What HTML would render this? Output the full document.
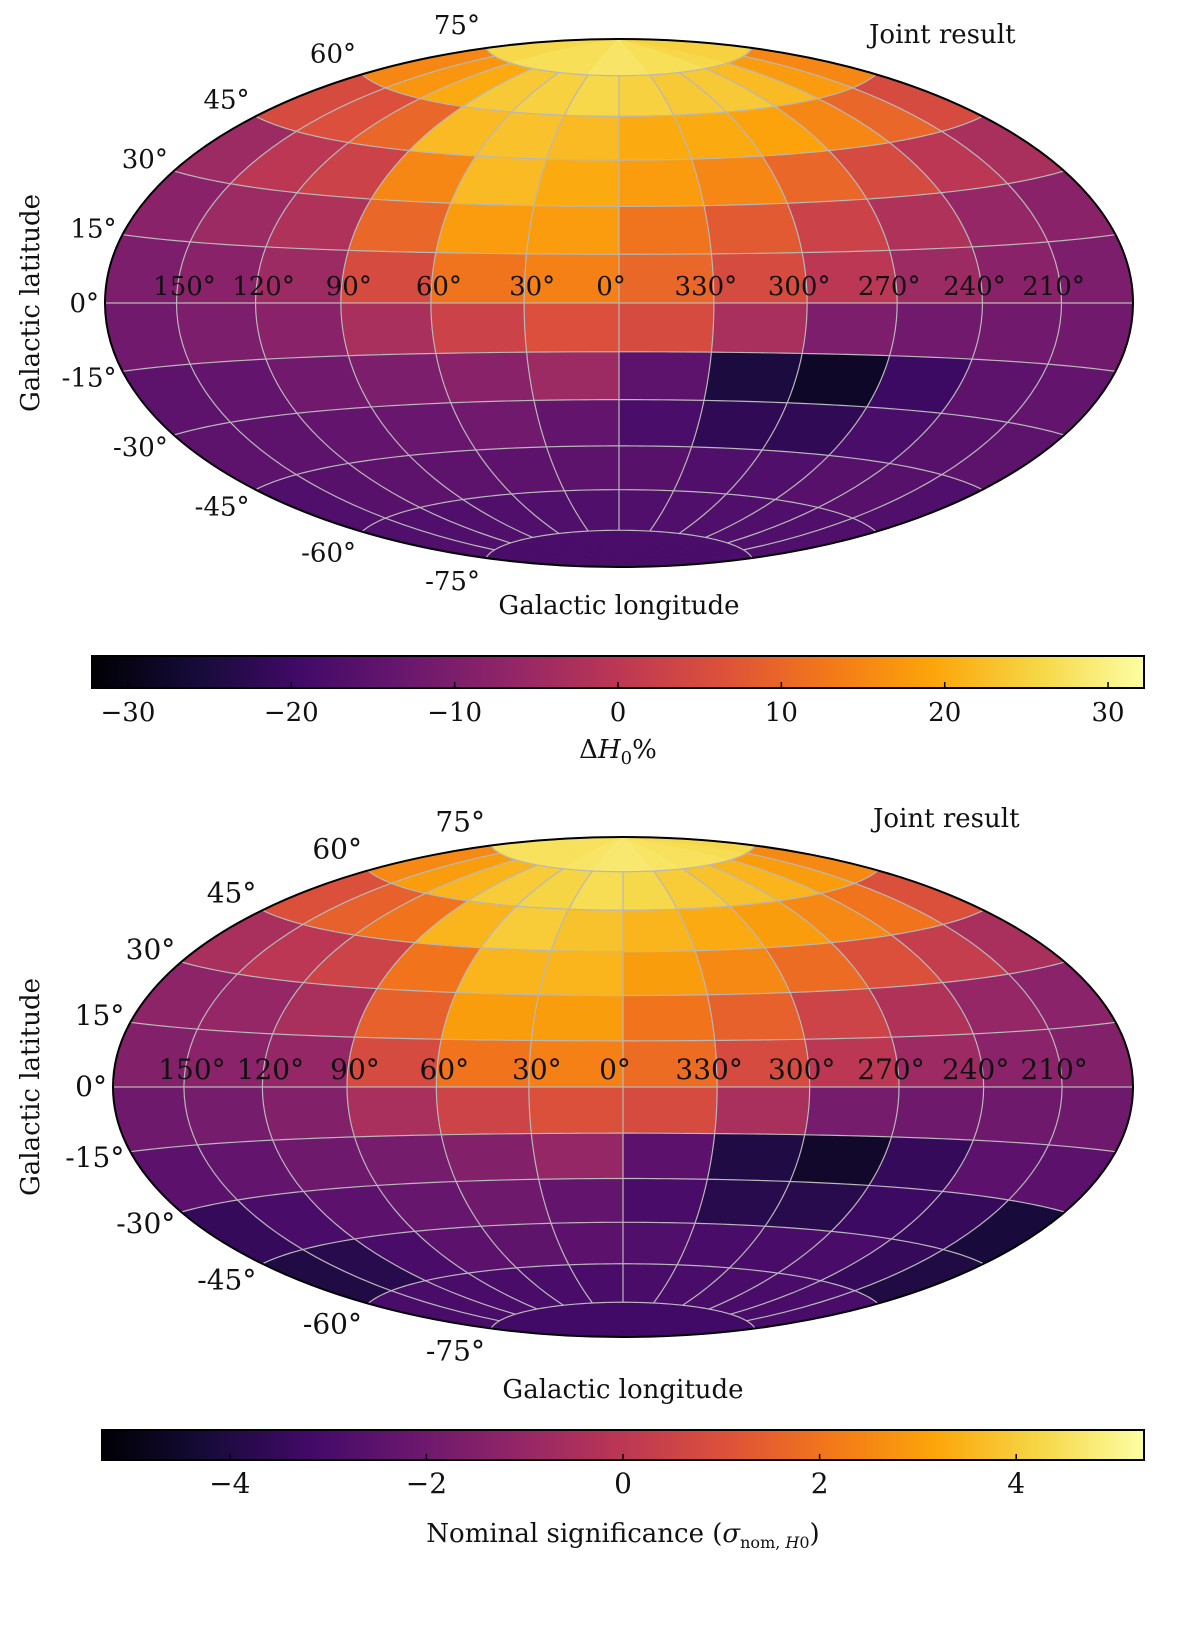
<!DOCTYPE html>
<html><head><meta charset="utf-8"><style>
body{margin:0;background:#fff;}
svg text{font-family:"DejaVu Serif","Liberation Serif",serif;fill:#111;}
</style></head><body>
<svg id="s" width="1200" height="1621" viewBox="0 0 1200 1621" xmlns="http://www.w3.org/2000/svg">
<defs>
<linearGradient id="inf" x1="0" x2="1" y1="0" y2="0">
<stop offset="0" stop-color="#000004"/><stop offset="0.1" stop-color="#160b39"/><stop offset="0.2" stop-color="#420a68"/><stop offset="0.3" stop-color="#6a176e"/><stop offset="0.4" stop-color="#932667"/><stop offset="0.5" stop-color="#bc3754"/><stop offset="0.6" stop-color="#dd513a"/><stop offset="0.7" stop-color="#f37819"/><stop offset="0.8" stop-color="#fca50a"/><stop offset="0.9" stop-color="#f6d746"/><stop offset="1" stop-color="#fcffa4"/>
</linearGradient>
</defs>
</svg>
<script>
// Bin centers (longitude, displayed left→right) and latitude rows (top→bottom)
const lonBins = [165,135,105,75,45,15,-15,-45,-75,-105,-135,-165];
const latBins = [82.5,67.5,52.5,37.5,22.5,7.5,-7.5,-22.5,-37.5,-52.5,-67.5,-82.5];
const lonTicks = [150,120,90,60,30,0,330,300,270,240,210];
const latTicks = [75,60,45,30,15,0,-15,-30,-45,-60,-75];
const cbTicksTop = [-30,-20,-10,0,10,20,30];
const cbTicksBot = [-4,-2,0,2,4];
const dH0 = [
[26,26,27,27,27,28,28,27,27,26,25,25],
[15,17,20,24,25,26,25,24,24,22,18,15],
[5,6,10,22,23,22,20,20,19,15,10,5],
[-5,0,3,15,22,20,18,15,10,5,0,-3],
[-8,-5,-2,10,18,18,12,8,3,-2,-6,-8],
[-10,-8,-5,5,12,14,10,5,0,-5,-8,-10],
[-12,-10,-8,-3,3,6,5,-3,-10,-12,-12,-12],
[-15,-14,-12,-10,-8,-5,-15,-25,-28,-20,-15,-14],
[-15,-15,-14,-13,-12,-14,-18,-22,-22,-18,-16,-15],
[-17,-16,-15,-15,-15,-15,-16,-17,-17,-16,-16,-17],
[-17,-17,-17,-17,-17,-17,-17,-17,-17,-17,-17,-17],
[-18,-18,-18,-18,-18,-18,-18,-18,-18,-18,-18,-18]];
const sigma = [
[4.5,4.5,4.5,4.5,4.6,4.7,4.7,4.6,4.5,4.5,4.4,4.3],
[2.5,3,3.5,4,4.2,4.4,4.3,4,3.8,3.5,3,2.5],
[1,1.5,2,3.5,4,3.8,3.5,3.3,3,2.5,2,1],
[-0.5,0,0.5,2,3.5,3.5,3,2.5,1.8,1,0.3,-0.5],
[-1.2,-1,-0.5,1.5,3,3,2,1.5,0.5,-0.3,-1,-1.3],
[-1.5,-1.3,-1,0.8,2,2.3,1.8,0.8,0,-0.8,-1.3,-1.5],
[-2,-1.8,-1.5,-0.5,0.5,1,0.8,-0.5,-1.8,-2,-2,-2],
[-2.5,-2.3,-2,-1.8,-1.5,-1,-2.5,-4,-4.5,-3.5,-2.5,-2.5],
[-3.5,-3,-2.5,-2.2,-2,-2.3,-3,-3.8,-3.8,-3.3,-3.5,-4.2],
[-4,-3.8,-3,-2.5,-2.4,-2.5,-2.8,-3,-3,-3,-3.5,-4],
[-3,-3,-3,-3,-3,-3,-3,-3,-3,-3,-3,-3],
[-3.2,-3.2,-3.2,-3.2,-3.2,-3.2,-3.2,-3.2,-3.2,-3.2,-3.2,-3.2]];

const NS='http://www.w3.org/2000/svg';
const svg=document.getElementById('s');
const defs=svg.querySelector('defs');
function mk(t,attrs,parent){const e=document.createElementNS(NS,t);for(const k in attrs)e.setAttribute(k,attrs[k]);(parent||svg).appendChild(e);return e;}
const stops=[[0,0,0,4],[0.1,22,11,57],[0.2,66,10,104],[0.3,106,23,110],[0.4,147,38,103],[0.5,188,55,84],[0.6,221,81,58],[0.7,243,120,25],[0.8,252,165,10],[0.9,246,215,70],[1,252,255,164]];
function inferno(t){t=Math.max(0,Math.min(1,t));for(let i=1;i<stops.length;i++){if(t<=stops[i][0]){const a=stops[i-1],b=stops[i],f=(t-a[0])/(b[0]-a[0]);return 'rgb('+[1,2,3].map(k=>Math.round(a[k]+f*(b[k]-a[k]))).join(',')+')';}}return 'rgb(252,255,164)';}

function makeMap(o){
  const sc=o.a/(2*Math.SQRT2), bs=o.b/Math.SQRT2;
  function P(lon,lat){let L=lon>180?lon-360:lon;const l=L*Math.PI/180,p=lat*Math.PI/180;const D=Math.sqrt(1+Math.cos(p)*Math.cos(l/2));return [o.cx-sc*2*Math.SQRT2*Math.cos(p)*Math.sin(l/2)/D, o.cy-bs*Math.SQRT2*Math.sin(p)/D];}
  const g=mk('g',{}); 
  const cp=mk('clipPath',{id:o.name+'clip'},defs);
  mk('ellipse',{cx:o.cx,cy:o.cy,rx:o.a,ry:o.b},cp);
  const cells=mk('g',{'clip-path':'url(#'+o.name+'clip)'},g);
  
  for(let j=0;j<latBins.length;j++)for(let i=0;i<lonBins.length;i++){
    const l0=lonBins[i]-15,l1=lonBins[i]+15,b0=latBins[j]-7.5,b1=latBins[j]+7.5;const pts=[];
    for(let k=0;k<=6;k++)pts.push(P(l1-(l1-l0)*k/6,b1));
    for(let k=0;k<=6;k++)pts.push(P(l0,b1-(b1-b0)*k/6));
    for(let k=0;k<=6;k++)pts.push(P(l0+(l1-l0)*k/6,b0));
    for(let k=0;k<=6;k++)pts.push(P(l1,b0+(b1-b0)*k/6));
    const c=inferno((o.data[j][i]-o.vmin)/(o.vmax-o.vmin));
    const pg=mk('polygon',{points:pts.map(p=>p[0].toFixed(1)+','+p[1].toFixed(1)).join(' '),fill:c,stroke:c,'stroke-width':1},cells);
    
    
  }
  const grid=mk('g',{fill:'none',stroke:'#b8b8b8','stroke-width':1.2},g);
  
  for(let lat of latTicks.concat([])){const pts=[];for(let l=-180;l<=180;l+=3)pts.push(P(l,lat));mk('polyline',{points:pts.map(p=>p.join(',')).join(' ')},grid);}
  for(let lon=-150;lon<=180;lon+=30){if(lon===180)continue;const pts=[];for(let b=-75;b<=75;b+=2.5)pts.push(P(lon,b));mk('polyline',{points:pts.map(p=>p.join(',')).join(' ')},grid);}
  const el=mk('ellipse',{cx:o.cx,cy:o.cy,rx:o.a,ry:o.b,fill:'none',stroke:'#000','stroke-width':2},g);
  
  lonTicks.forEach(lon=>{const p=P(lon,0);const t=mk('text',{x:p[0]+(lon>0&&lon<180?8:-8),y:p[1]-8,'font-size':o.fs,'text-anchor':'middle'},g);t.textContent=lon+'°';
    });
  latTicks.forEach(lat=>{const p=P(180,lat);const t=mk('text',{x:p[0]-6,y:p[1]+9-24*Math.sin(lat*Math.PI/180),'font-size':o.fs,'text-anchor':'end'},g);t.textContent=lat+'°';
    });
  const jr=mk('text',{x:o.cx+250,y:o.cy-260,'font-size':26},g);jr.textContent='Joint result';
  
  const xl=mk('text',{x:o.cx,y:o.cy+311,'font-size':26,'text-anchor':'middle'},g);xl.textContent='Galactic longitude';
  
  const yl=mk('text',{x:0,y:0,'font-size':26,'text-anchor':'middle',transform:'translate(39,'+o.cy+') rotate(-90)'},g);yl.textContent='Galactic latitude';
  
  // colorbar
  const cb=o.cb;const cg=mk('g',{},svg);
  
  mk('rect',{x:cb.x0,y:cb.y,width:cb.x1-cb.x0,height:cb.h,fill:'url(#inf)',stroke:'#000','stroke-width':2},cg);
  const X=v=>cb.x0+(v-o.vmin)/(o.vmax-o.vmin)*(cb.x1-cb.x0);
  cb.ticks.forEach(v=>{mk('line',{x1:X(v),x2:X(v),y1:cb.y+cb.h,y2:cb.y+cb.h-6,stroke:'#000','stroke-width':1.5},cg);
    const t=mk('text',{x:X(v),y:cb.y+cb.h+33,'font-size':cb.fs,'text-anchor':'middle'},cg);t.textContent=(v<0?'\u2212'+(-v):v);
    });
  const lt=mk('text',{x:(cb.x0+cb.x1)/2,y:cb.y+cb.h+(o.name==='top'?70:82),'font-size':26,'text-anchor':'middle'},cg);
  lt.innerHTML=cb.label;
}
makeMap({name:'top',cx:619,cy:303,a:514,b:264,data:dH0,vmin:-32.2,vmax:32.2,fs:26,
  cb:{x0:92,x1:1144,y:656,h:32,ticks:cbTicksTop,fs:26,label:'Δ<tspan font-style="italic">H</tspan><tspan font-size="18" dy="6">0</tspan><tspan dy="-6">%</tspan>'}});
makeMap({name:'bottom',cx:623,cy:1087,a:510,b:250,data:sigma,vmin:-5.3,vmax:5.3,fs:28,
  cb:{x0:102,x1:1144,y:1430,h:30,ticks:cbTicksBot,fs:28,label:'Nominal significance (<tspan font-style="italic">σ</tspan><tspan font-size="16" dy="6">nom, <tspan font-style="italic">H</tspan>0</tspan><tspan dy="-6">)</tspan>'}});
</script>
</body></html>
